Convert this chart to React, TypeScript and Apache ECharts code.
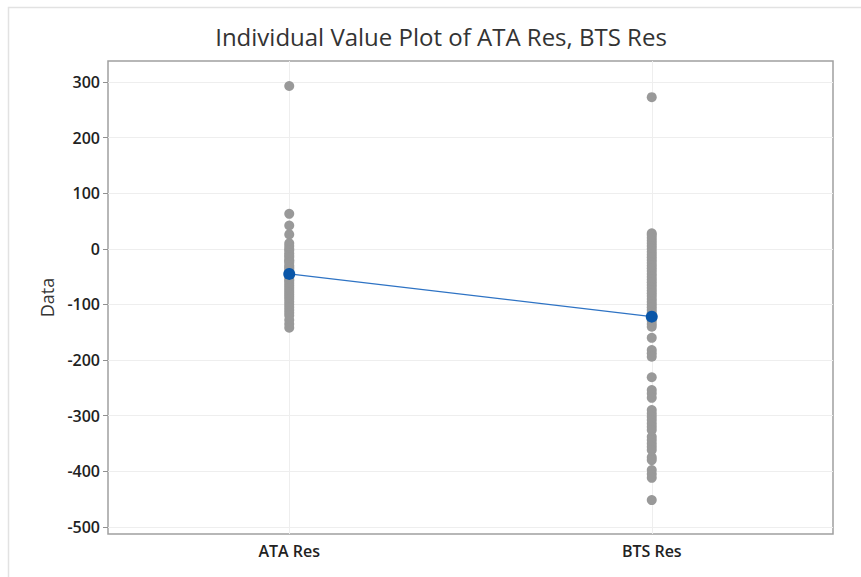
import React, { useEffect, useRef } from "react";
import * as echarts from "echarts";

const categories = ["ATA Res", "BTS Res"];

const ataValues = [
  293, 63, 42, 26, 10, 5, 0, -3, -8, -12, -15, -20, -22, -25, -30, -33, -36, -40,
  -44, -47, -50, -55, -58, -62, -66, -70, -74, -78, -82, -86, -90, -95, -100,
  -105, -110, -115, -120, -128, -135, -142,
];

const btsValues = [
  273, 28, 25, 20, 15, 10, 5, 0, -5, -10, -15, -20, -25, -30, -35, -40, -45, -50,
  -55, -60, -65, -70, -75, -80, -85, -90, -95, -100, -105, -110, -115, -120,
  -125, -130, -135, -140, -160, -182, -188, -194, -231, -254, -260, -268, -290,
  -296, -302, -308, -314, -320, -326, -338, -344, -350, -356, -362, -375, -380,
  -398, -405, -412, -452,
];

const means = [-45, -122];

const yTicks = [300, 200, 100, 0, -100, -200, -300, -400, -500];

export default function App() {
  const ref = useRef<HTMLDivElement>(null);

  useEffect(() => {
    document.body.style.margin = "0";
    if (!ref.current) return;
    const chart = echarts.init(ref.current, undefined, { renderer: "svg" });
    const font = "'Open Sans', 'Noto Sans', sans-serif";

    const pts: [string, number][] = [];
    ataValues.forEach((v) => pts.push([categories[0], v]));
    btsValues.forEach((v) => pts.push([categories[1], v]));

    chart.setOption({
      animation: false,
      backgroundColor: "#ffffff",
      title: {
        text: "Individual Value Plot of ATA Res, BTS Res",
        left: 436,
        top: 19,
        textAlign: "center",
        textStyle: {
          fontFamily: font,
          fontSize: 24,
          fontWeight: "normal",
          color: "#333333",
        },
      },
      graphic: [
        {
          type: "polyline",
          silent: true,
          shape: { points: [[8.5, 577], [8.5, 7.5], [861, 7.5]] },
          style: { stroke: "#e2e2e2", lineWidth: 1.5, fill: null },
        },
      ],
      grid: {
        left: 108,
        right: 28,
        top: 61,
        bottom: 43,
        show: true,
        borderColor: "#a0a0a0",
        borderWidth: 1.5,
      },
      xAxis: {
        type: "category",
        data: categories,
        boundaryGap: true,
        axisLine: { show: false },
        axisTick: {
          show: true,
          alignWithLabel: true,
          length: 5,
          lineStyle: { color: "#909090" },
        },
        axisLabel: {
          fontFamily: font,
          fontSize: 16,
          fontWeight: 600,
          color: "#222222",
          margin: 9,
        },
        splitLine: { show: false },
      },
      yAxis: {
        type: "value",
        min: -513,
        max: 338,
        interval: 100,
        name: "Data",
        nameLocation: "middle",
        nameGap: 52,
        nameRotate: 90,
        nameTextStyle: {
          fontFamily: font,
          fontSize: 18,
          fontWeight: 500,
          color: "#333333",
        },
        axisLine: { show: false },
        axisTick: {
          show: true,
          length: 5,
          lineStyle: { color: "#909090" },
          customValues: yTicks,
        },
        axisLabel: {
          fontFamily: font,
          fontSize: 16,
          fontWeight: 600,
          color: "#222222",
          margin: 8,
          customValues: yTicks,
        },
        splitLine: {
          show: true,
          lineStyle: { color: "#eeeeee", width: 1 },
        },
      },
      series: [
        {
          type: "scatter",
          data: pts,
          symbol: "circle",
          symbolSize: 10,
          itemStyle: { color: "#999999", opacity: 1 },
          z: 2,
          markLine: {
            silent: true,
            symbol: "none",
            label: { show: false },
            lineStyle: { color: "#eeeeee", width: 1, type: "solid" },
            data: categories.map((c) => ({ xAxis: c })),
            z: 0,
          },
        },
        {
          type: "line",
          data: categories.map((c, i) => [c, means[i]]),
          symbol: "circle",
          symbolSize: 12,
          lineStyle: { color: "#2e73c4", width: 1.2 },
          itemStyle: { color: "#0a56a8" },
          z: 3,
        },
      ],
    });

    return () => chart.dispose();
  }, []);

  return <div ref={ref} style={{ width: 861, height: 577 }} />;
}
